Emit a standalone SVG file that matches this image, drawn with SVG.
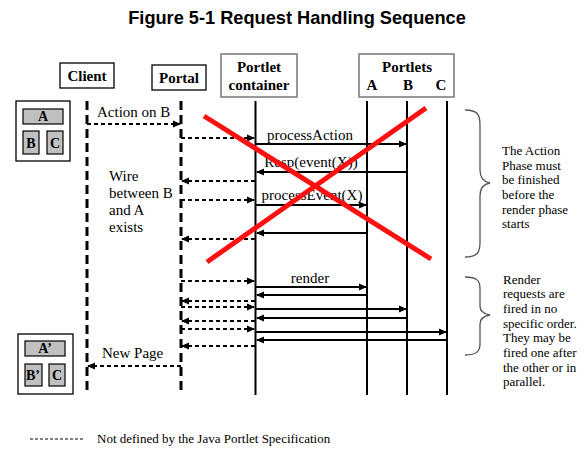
<svg xmlns="http://www.w3.org/2000/svg" width="587" height="449" viewBox="0 0 587 449">
<defs>
<style>
.t{font-family:"Liberation Serif","Times New Roman",serif;fill:#000}
.hd{font-size:15px;font-weight:bold;text-anchor:middle}
.msg{font-size:15px}
.note{font-size:13px}
.box{fill:#fff;stroke:#000;stroke-width:1.3}
.hbox{fill:#fff;stroke:#777;stroke-width:1.5}
.g{fill:#c0c0c0;stroke:#000;stroke-width:1.2}
.life{stroke:#000;stroke-width:3;stroke-dasharray:9,5;fill:none}
.sol{stroke:#000;stroke-width:2;fill:none}
.m{stroke:#000;stroke-width:2;fill:none;marker-end:url(#ah)}
.d{stroke:#000;stroke-width:2;stroke-dasharray:4,3;fill:none;marker-end:url(#ah)}
.x{stroke:#ff1010;stroke-width:5;stroke-linecap:butt}
.br{fill:none;stroke:#555;stroke-width:1.3}
</style>
<marker id="ah" markerWidth="8" markerHeight="8" refX="7" refY="4" orient="auto" markerUnits="userSpaceOnUse">
<path d="M0,0.5 L8,4 L0,7.5 Z" fill="#000"/>
</marker>
</defs>
<rect width="587" height="449" fill="#fff"/>
<text x="297" y="24" style="font-family:'Liberation Sans',Arial,sans-serif;font-weight:bold;font-size:18.2px;text-anchor:middle">Figure 5-1 Request Handling Sequence</text>

<g id="client">
<rect class="box" x="60" y="63" width="54" height="25"/>
<text class="t hd" x="87" y="81">Client</text>
<line class="life" x1="87" y1="101" x2="87" y2="390"/>
</g>
<g id="portal">
<rect class="box" x="152" y="65" width="54" height="25"/>
<text class="t hd" x="179" y="83">Portal</text>
<line class="life" x1="181" y1="101" x2="181" y2="390"/>
</g>
<g id="container">
<rect class="hbox" x="221" y="54" width="76" height="43"/>
<text class="t hd" x="259" y="72">Portlet</text>
<text class="t hd" x="259" y="90">container</text>
<line class="sol" x1="255.5" y1="101" x2="255.5" y2="395"/>
</g>
<g id="portlets">
<rect class="hbox" x="359" y="54" width="95" height="43"/>
<text class="t hd" x="407" y="72">Portlets</text>
<text class="t hd" x="372" y="90">A</text>
<text class="t hd" x="408" y="90">B</text>
<text class="t hd" x="441" y="90">C</text>
<line class="sol" x1="367" y1="101" x2="367" y2="395"/>
<line class="sol" x1="407" y1="101" x2="407" y2="395"/>
<line class="sol" x1="447" y1="101" x2="447" y2="395"/>
</g>

<g id="page1">
<rect class="box" x="16" y="101" width="54" height="60"/>
<rect class="g" x="23" y="109" width="40" height="15"/>
<text class="t hd" x="43" y="121" style="font-size:14px">A</text>
<rect class="g" x="23" y="131" width="16" height="23"/>
<text class="t hd" x="31" y="148" style="font-size:14px">B</text>
<rect class="g" x="47" y="131" width="16" height="23"/>
<text class="t hd" x="55" y="148" style="font-size:14px">C</text>
</g>
<g id="page2">
<rect class="box" x="18" y="334" width="55" height="60"/>
<rect class="g" x="25" y="341" width="40" height="15"/>
<text class="t hd" x="45" y="353" style="font-size:14px">A’</text>
<rect class="g" x="25" y="364" width="17" height="22"/>
<text class="t hd" x="33" y="380" style="font-size:14px">B’</text>
<rect class="g" x="49" y="364" width="16" height="22"/>
<text class="t hd" x="57" y="380" style="font-size:14px">C</text>
</g>

<g id="connectors">
<line class="d" x1="87" y1="124" x2="180" y2="124"/>
<line class="d" x1="181" y1="138" x2="254" y2="138"/>
<line class="m" x1="256" y1="144" x2="406" y2="144"/>
<line class="m" x1="406" y1="172" x2="257" y2="172"/>
<line class="d" x1="255" y1="181" x2="182" y2="181"/>
<line class="d" x1="181" y1="200" x2="254" y2="200"/>
<line class="m" x1="256" y1="205" x2="366" y2="205"/>
<line class="m" x1="366" y1="233" x2="257" y2="233"/>
<line class="d" x1="255" y1="239" x2="182" y2="239"/>

<line class="d" x1="181" y1="281" x2="254" y2="281"/>
<line class="m" x1="256" y1="287" x2="366" y2="287"/>
<line class="m" x1="366" y1="295" x2="257" y2="295"/>
<line class="d" x1="255" y1="301" x2="182" y2="301"/>
<line class="d" x1="181" y1="307" x2="254" y2="307"/>
<line class="m" x1="256" y1="309" x2="406" y2="309"/>
<line class="m" x1="406" y1="318" x2="257" y2="318"/>
<line class="d" x1="255" y1="321" x2="182" y2="321"/>
<line class="d" x1="181" y1="329" x2="254" y2="329"/>
<line class="m" x1="256" y1="332" x2="446" y2="332"/>
<line class="m" x1="446" y1="340" x2="257" y2="340"/>
<line class="d" x1="255" y1="346" x2="182" y2="346"/>
<line class="d" x1="181" y1="366" x2="88" y2="366"/>
</g>

<g id="labels">
<text class="t msg" x="97" y="117">Action on B</text>
<text class="t msg" x="310" y="140" text-anchor="middle">processAction</text>
<text class="t msg" x="311" y="167" text-anchor="middle">Resp(event(X))</text>
<text class="t msg" x="312" y="200" text-anchor="middle">processEvent(X)</text>
<text class="t msg" x="310" y="283" text-anchor="middle">render</text>
<text class="t msg" x="102" y="358">New Page</text>
<text class="t msg" x="109" y="181">Wire</text>
<text class="t msg" x="109" y="198">between B</text>
<text class="t msg" x="109" y="215">and A</text>
<text class="t msg" x="109" y="232">exists</text>
</g>

<g id="cross">
<line class="x" x1="204" y1="116" x2="431" y2="259"/>
<line class="x" x1="426" y1="108" x2="207" y2="262"/>
</g>

<g id="brace1">
<path class="br" d="M465,110 C478,110 480,115 480,125 L480,170 C480,178 484,182 490,183 C484,184 480,188 480,196 L480,242 C480,252 478,257 465,257"/>
<text class="t note" x="502" y="155">The Action</text>
<text class="t note" x="502" y="170">Phase must</text>
<text class="t note" x="502" y="184">be finished</text>
<text class="t note" x="502" y="199">before the</text>
<text class="t note" x="502" y="214">render phase</text>
<text class="t note" x="502" y="228">starts</text>
</g>
<g id="brace2">
<path class="br" d="M465,277 C477,277 480,281 480,288 L480,306 C480,312 484,314 490,315 C484,316 480,318 480,324 L480,344 C480,351 477,355 465,355"/>
<text class="t note" x="503" y="284">Render</text>
<text class="t note" x="503" y="298">requests are</text>
<text class="t note" x="503" y="313">fired in no</text>
<text class="t note" x="503" y="328">specific order.</text>
<text class="t note" x="503" y="342">They may be</text>
<text class="t note" x="503" y="357">fired one after</text>
<text class="t note" x="503" y="372">the other or in</text>
<text class="t note" x="503" y="386">parallel.</text>
</g>

<g id="legend">
<line x1="30" y1="439" x2="84" y2="439" stroke="#000" stroke-width="1" stroke-dasharray="3,2"/>
<text class="t" x="97" y="443" style="font-size:13px">Not defined by the Java Portlet Specification</text>
</g>
</svg>
